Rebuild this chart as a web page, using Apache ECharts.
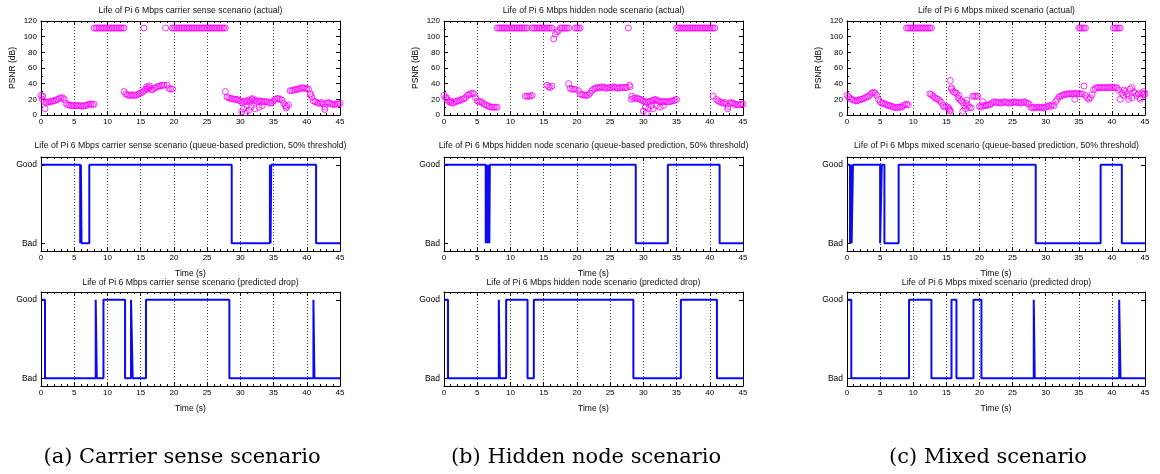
<!DOCTYPE html>
<html>
<head>
<meta charset="utf-8">
<script src="https://cdn.jsdelivr.net/npm/echarts@6/dist/echarts.min.js"></script>
<style>
  html, body { margin: 0; padding: 0; background: #fff; }
  #chart { width: 1160px; height: 474px; }
</style>
</head>
<body>
<div id="chart"></div>
<script>
// PSNR samples, one every 0.25 s from 0 to 45 s (111 dB = no loss)
var sampleStep = 0.25;
var psnrA = [
  25,24,17,16,16,17,17,18,18,19,20,21,22,22,20,15,13,13,12,12,
  12,12,12,12,12,11,12,12,13,14,14,13,14,111,111,111,111,111,111,111,
  111,111,111,111,111,111,111,111,111,111,111,27,26,25,25,26,25,25,26,27,
  28,29,111,33,33,35,33,32,34,35,36,37,37,38,38,111,38,34,33,111,
  111,111,111,111,111,111,111,111,111,111,111,111,111,111,111,111,111,111,111,111,
  111,111,111,111,111,111,111,111,111,111,111,111,23,22,21,21,20,20,20,19,
  18,16,17,18,17,19,18,20,18,19,17,18,18,17,17,17,17,16,15,16,
  18,20,21,21,20,19,15,12,11,13,31,31,32,32,33,33,34,35,34,34,
  34,33,26,23,18,17,16,15,15,16,14,10,15,16,15,14,13,14,14,14,
  15
];
var psnrB = [
  25,22,19,17,16,15,16,17,18,18,19,20,21,22,25,26,27,28,27,22,
  18,17,17,16,14,13,12,11,10,10,10,10,10,111,111,111,111,111,111,111,
  111,111,111,111,111,111,111,111,111,111,24,24,24,25,111,111,111,111,111,111,
  111,111,111,111,111,111,97,103,106,108,111,111,111,111,111,111,34,33,33,33,
  111,111,111,26,26,25,25,26,28,31,33,34,35,35,35,36,35,35,34,35,
  35,35,36,35,35,34,35,35,35,35,35,111,36,24,21,22,21,21,20,19,
  18,17,16,17,17,18,19,20,19,18,17,17,17,17,17,17,17,18,18,19,
  111,111,111,111,111,111,111,111,111,111,111,111,111,111,111,111,111,111,111,111,
  111,111,111,111,20,18,17,16,15,16,14,11,15,16,15,14,13,13,13,14,
  14
];
var psnrC = [
  25,23,21,20,19,18,18,19,20,20,21,22,23,24,26,28,29,28,25,20,
  17,15,15,14,13,12,12,11,10,10,9,10,10,10,12,13,111,111,111,111,
  111,111,111,111,111,111,111,111,111,111,111,26,24,22,21,20,18,16,12,10,
  11,10,6,33,30,29,28,22,20,18,16,12,15,12,10,9,24,24,24,24,
  11,10,12,12,12,13,13,14,16,17,16,16,16,15,16,17,16,16,15,16,
  16,17,16,16,16,15,16,17,16,15,14,10,9,10,9,10,10,9,10,9,
  10,11,12,11,13,12,17,20,23,24,25,26,26,27,27,27,27,27,28,27,
  111,111,111,111,111,22,20,22,26,32,34,35,35,35,35,35,35,35,35,35,
  35,111,111,111,111,111,28,25,30,27,24,33,35,30,28,25,27,22,28,26,
  27
];
// scattered extra frames [time, psnr]
var extraA = [[0.2,20],[0.6,8],[8.0,111],[12.5,30],[15.5,31],[15.9,36],[16.3,37],[19.8,33],[27.75,30],
  [30.2,4],[30.5,8],[30.8,3],[31.0,12],[31.3,6],[31.6,10],[31.8,21],[32.2,8],[32.8,10],[33.3,12],
  [36.9,9],[40.6,27],[42.7,7]];
var extraB = [[0.4,22],[1.0,18],[8.0,111],[12.25,24],[12.5,111],[13.25,111],[15.5,38],[15.75,36],[16.0,35],
  [16.25,37],[18.75,40],[19.75,111],[20.25,31],[20.5,27],[27.9,38],[28.2,20],[30.0,5],[30.3,10],[30.5,3],
  [30.8,8],[31.2,12],[31.5,8],[32.0,12],[32.5,10],[33.0,12],[35.0,20],[40.5,24],[42.7,8]];
var extraC = [[9.0,14],[9.25,13],[12.5,27],[12.75,111],[15.4,8],[15.6,5],[15.6,44],[15.8,35],[16.9,25],
  [17.5,5],[17.9,8],[18.1,19],[20.5,17],[34.4,20],[35.0,27],[35.25,27],[35.5,27],[35.8,37],[36.0,25],
  [40.25,35],[40.5,35],[40.75,35],[41.0,32],[41.25,20],[41.8,32],[42.5,20],[43.0,22],[44.3,20],[44.8,30]];

// Good/Bad switch times (state starts at Good and flips at each time)
var queueA = [5.9, 6.0, 6.1, 7.27, 28.7, 34.45, 34.55, 34.65, 41.4];
var queueB = [6.28, 6.38, 6.48, 6.58, 6.68, 6.78, 6.82, 6.9, 28.86, 33.69, 41.48];
var queueC = [0.45, 0.6, 0.7, 0.9, 5.0, 5.25, 5.65, 7.8, 28.5, 38.3, 41.5];
var predA = [0.6, 8.23, 8.4, 9.4, 12.65, 13.55, 13.8, 15.8, 28.35, 41.0, 41.15];
var predB = [0.6, 8.25, 8.4, 9.35, 12.57, 13.52, 28.5, 35.65, 41.08];
var predC = [0.65, 9.37, 12.75, 15.78, 16.53, 19.1, 20.3, 28.2, 28.35, 41.1, 41.3];

var scenarios = ['carrier sense', 'hidden node', 'mixed'];
var captions = ['(a) Carrier sense scenario', '(b) Hidden node scenario', '(c) Mixed scenario'];
var goodBad = ['Bad', 'Good'];

var chart = echarts.init(document.getElementById('chart'));

var colLeft = [41, 444, 847];
var rowTop = [21, 157, 292];
var plotW = 299, plotH = 94;
var titleY = [11, 146, 283];
var captionX = [182, 586, 988];
var sans = 'Liberation Sans';

function stepData(changes) {
  var s = 1;
  var d = [[0, 1]];
  changes.forEach(function (t) { s = 1 - s; d.push([t, s]); });
  d.push([45, s]);
  return d;
}
function psnrData(vals, extra) {
  return vals.map(function (v, i) { return [i * sampleStep, v]; }).concat(extra);
}

var grids = [], xAxes = [], yAxes = [], series = [], graphics = [];
var psnrSets = [[psnrA, extraA], [psnrB, extraB], [psnrC, extraC]];
var queueSets = [queueA, queueB, queueC];
var predSets = [predA, predB, predC];
var rowTitles = ['(actual)', '(queue-based prediction, 50% threshold)', '(predicted drop)'];

for (var r = 0; r < 3; r++) {
  for (var c = 0; c < 3; c++) {
    var g = r * 3 + c;
    grids.push({ left: colLeft[c], top: rowTop[r], width: c === 2 ? 298 : plotW, height: plotH });
    var line = { show: true, onZero: false, lineStyle: { color: '#000', width: 1 } };
    xAxes.push({
      gridIndex: g, type: 'value', min: 0, max: 45, interval: 5, position: 'bottom',
      axisLine: line,
      axisTick: { inside: true, length: 4, lineStyle: { color: '#000' } },
      minorTick: { show: true, splitNumber: 5, length: 2, lineStyle: { color: '#000' } },
      splitLine: { show: true, lineStyle: { type: [1, 2], color: '#444', width: 1 } },
      axisLabel: { fontFamily: sans, fontSize: 8, color: '#000', margin: 3 },
      name: r > 0 ? 'Time (s)' : '', nameLocation: 'middle', nameGap: 18,
      nameTextStyle: { fontFamily: sans, fontSize: 8.5, color: '#000' }
    });
    xAxes.push({
      gridIndex: g, type: 'value', min: 0, max: 45, interval: 5, position: 'top',
      axisLine: line,
      axisTick: { inside: true, length: 4, lineStyle: { color: '#000' } },
      minorTick: { show: true, splitNumber: 5, length: 2, lineStyle: { color: '#000' } },
      splitLine: { show: false }, axisLabel: { show: false }
    });
    if (r === 0) {
      var yl = {
        gridIndex: g, type: 'value', min: 0, max: 120, interval: 20,
        axisTick: { inside: true, length: 4, lineStyle: { color: '#000' } },
        minorTick: { show: true, splitNumber: 2, length: 2, lineStyle: { color: '#000' } },
        splitLine: { show: false }
      };
      yAxes.push(Object.assign({}, yl, {
        position: 'left', axisLine: line,
        axisLabel: { fontFamily: sans, fontSize: 8, color: '#000', margin: 4 },
        name: 'PSNR (dB)', nameLocation: 'middle', nameGap: 24,
        nameTextStyle: { fontFamily: sans, fontSize: 8.5, color: '#000' }
      }));
      yAxes.push(Object.assign({}, yl, { position: 'right', axisLine: line, axisLabel: { show: false } }));
      series.push({
        type: 'scatter', xAxisIndex: 2 * g, yAxisIndex: 2 * g,
        data: psnrData(psnrSets[c][0], psnrSets[c][1]),
        symbol: 'circle', symbolSize: 6,
        itemStyle: { color: 'rgba(0,0,0,0)', borderColor: '#ff00ff', borderWidth: 1 }
      });
    } else {
      var yb = {
        gridIndex: g, type: 'value', min: -0.1, max: 1.1,
        axisTick: { inside: true, length: 4, customValues: [0, 1], lineStyle: { color: '#000' } },
        splitLine: { show: false }
      };
      yAxes.push(Object.assign({}, yb, {
        position: 'left', axisLine: line,
        axisLabel: { fontFamily: sans, fontSize: 8.5, color: '#000', margin: 4, customValues: [0, 1],
          formatter: function (v) { return goodBad[Math.round(v)]; } }
      }));
      yAxes.push(Object.assign({}, yb, { position: 'right', axisLine: line, axisLabel: { show: false } }));
      series.push({
        type: 'line', step: 'end', xAxisIndex: 2 * g, yAxisIndex: 2 * g,
        data: stepData(r === 1 ? queueSets[c] : predSets[c]),
        showSymbol: false, lineStyle: { color: '#0a0af5', width: 2 }
      });
    }
    graphics.push({
      type: 'text', x: colLeft[c] + plotW / 2, y: titleY[r],
      style: { text: 'Life of Pi 6 Mbps ' + scenarios[c] + ' scenario ' + rowTitles[r],
        font: '8.7px "Liberation Sans"', fill: '#111', align: 'center', verticalAlign: 'middle' }
    });
  }
}
captions.forEach(function (t, i) {
  graphics.push({
    type: 'text', x: captionX[i], y: 458,
    style: { text: t, font: '21px "DejaVu Serif"', fill: '#000', align: 'center', verticalAlign: 'middle' }
  });
});

chart.setOption({
  animation: false,
  backgroundColor: '#fff',
  grid: grids,
  xAxis: xAxes,
  yAxis: yAxes,
  series: series,
  graphic: graphics
});
</script>
</body>
</html>
